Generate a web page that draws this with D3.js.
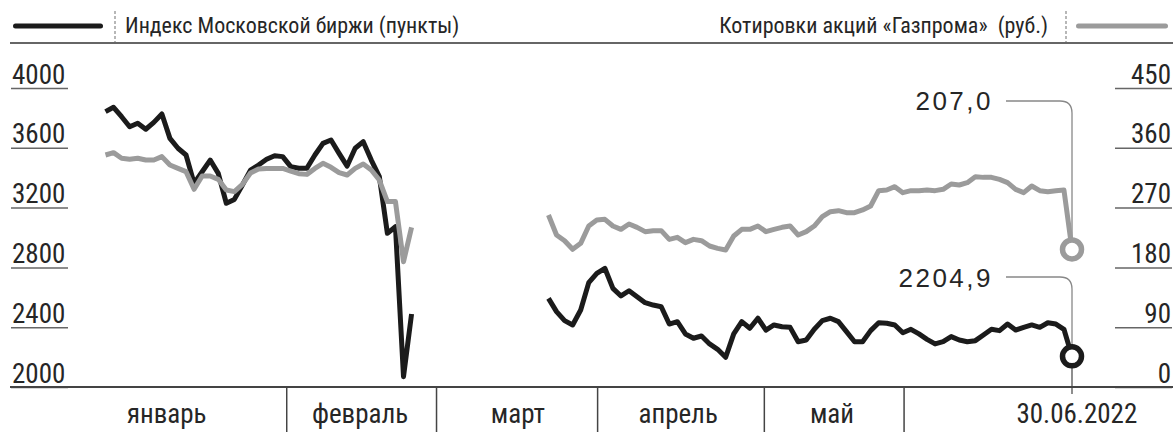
<!DOCTYPE html>
<html><head><meta charset="utf-8">
<script src="https://cdn.jsdelivr.net/npm/d3@7"></script>
<style>body{margin:0;background:#fff}svg{display:block}</style>
</head><body><svg id="c" width="1176" height="439"></svg>
<script>
// ---- data (trading-day index based) ----
const segStart = [0, 55];
const moexJanFeb = [3842,3871,3808,3741,3764,3724,3770,3826,3663,3597,3552,3362,3440,3518,3429,3229,3255,3351,3451,3485,3523,3547,3541,3474,3463,3463,3552,3630,3652,3563,3478,3597,3641,3518,3407,3028,3072,2069,2488];
const moexMarJun = [2593,2504,2444,2415,2515,2698,2760,2794,2660,2609,2644,2604,2564,2548,2537,2421,2437,2355,2326,2341,2288,2252,2199,2355,2437,2393,2460,2381,2415,2403,2399,2303,2314,2386,2444,2460,2437,2370,2303,2303,2377,2430,2426,2415,2363,2386,2355,2319,2288,2303,2337,2314,2303,2310,2348,2386,2377,2421,2381,2399,2415,2399,2430,2421,2386,2204.9];
const gazpJanFeb = [349.2,352.7,344.2,342.7,344.2,341.6,341.6,346.7,334.1,329.1,324.1,297.5,317.6,317.6,312.5,296.5,294,305,322,328,329,329,329,325,321,320,329,336.6,330.6,322.6,319.1,329.1,335.6,326.6,311.5,279,279,188.6,240.3];
const gazpMarJun = [258.9,228.8,220.2,207.2,216.2,242.3,251.3,252.3,242.3,237.3,245.3,240.3,233.8,235.3,235.3,222.2,225.3,217.2,222.2,220.2,212.2,208.7,206.2,227.3,237.3,237.3,242.3,233.8,237.3,240.3,242.3,228.8,233.8,242.3,256.4,263.9,265.4,262.4,262.4,266.4,272.4,295.5,296.5,301.5,292.5,295.5,295.5,296.5,295.5,297.5,305.5,304,307.5,316.5,315.5,315.5,312.5,307.5,297.5,292.5,302.5,295.5,294,295.5,296.5,207.0];
const leftTicks = [2000,2400,2800,3200,3600,4000];
const rightTicks = [0,90,180,270,360,450];
const monthBreaks = [22.5,41.1,61.1,81.8,99.15];
const monthLabels = ["январь","февраль","март","апрель","май","30.06.2022"];
const monthLabelPos = [7.6,31.6,51.2,71.1,90.2,120.6];
const lastIndex = 120;
const legendLeft = "Индекс Московской биржи (пункты)";
const legendRight = "Котировки акций «Газпрома»  (руб.)";
const labelMoex = "2204,9";
const labelGazp = "207,0";

// ---- layout ----
const narrow = '"Liberation Sans Narrow","Arial Narrow","Roboto Condensed","DejaVu Sans Condensed",sans-serif';
const reg = '"Liberation Sans",Arial,Helvetica,sans-serif';
const BLACK = "#1b1b1b", GRAY = "#9b9b9b", TXT = "#262626";
const x = d3.scaleLinear().domain([0, lastIndex]).range([105.5, 1072]);
const yL = d3.scaleLinear().domain([2000, 4000]).range([387, 88]);
const yR = d3.scaleLinear().domain([0, 450]).range([387, 88]);
const svg = d3.select("#c");

// header
svg.append("line").attr("x1",15.5).attr("x2",100.5).attr("y1",26).attr("y2",26)
  .attr("stroke",BLACK).attr("stroke-width",5).attr("stroke-linecap","round");
svg.append("line").attr("x1",115).attr("x2",115).attr("y1",11).attr("y2",42)
  .attr("stroke","#888").attr("stroke-width",1.2).attr("stroke-dasharray","3,2");
svg.append("text").attr("x",125).attr("y",33).attr("font-family",narrow).attr("font-size",22)
  .attr("fill",TXT).text(legendLeft);
svg.append("text").attr("x",1048).attr("y",33).attr("font-family",narrow).attr("font-size",22)
  .attr("fill",TXT).attr("text-anchor","end").style("white-space","pre").text(legendRight);
svg.append("line").attr("x1",1066).attr("x2",1066).attr("y1",11).attr("y2",42)
  .attr("stroke","#888").attr("stroke-width",1.2).attr("stroke-dasharray","3,2");
svg.append("line").attr("x1",1078.5).attr("x2",1165.5).attr("y1",26).attr("y2",26)
  .attr("stroke",GRAY).attr("stroke-width",5).attr("stroke-linecap","round");
svg.append("line").attr("x1",10).attr("x2",1173).attr("y1",43).attr("y2",43)
  .attr("stroke","#333").attr("stroke-width",1.5);

// left axis
const gL = svg.append("g").attr("transform","translate(11,0)")
  .call(d3.axisRight(yL).tickValues(leftTicks).tickSize(57).tickFormat(d3.format("d")));
gL.select(".domain").remove();
gL.selectAll("line").attr("stroke","#666").attr("stroke-width",1.5);
gL.selectAll("text").attr("x",1).attr("y",-5).attr("dy",null).attr("text-anchor","start")
  .attr("font-family",narrow).attr("font-size",27).attr("fill",TXT);

// right axis
const gR = svg.append("g").attr("transform","translate(1172,0)")
  .call(d3.axisLeft(yR).tickValues(rightTicks).tickSize(57).tickFormat(d3.format("d")));
gR.select(".domain").remove();
gR.selectAll("line").attr("stroke","#666").attr("stroke-width",1.5);
gR.selectAll("text").attr("x",-1).attr("y",-5).attr("dy",null).attr("text-anchor","end")
  .attr("font-family",narrow).attr("font-size",27).attr("fill",TXT);

// bottom axis
svg.append("line").attr("x1",10).attr("x2",1173).attr("y1",yL(2000)).attr("y2",yL(2000))
  .attr("stroke","#444").attr("stroke-width",2);
svg.selectAll("line.sep").data(monthBreaks).join("line").attr("class","sep")
  .attr("x1",d=>x(d)).attr("x2",d=>x(d)).attr("y1",yL(2000)).attr("y2",432)
  .attr("stroke","#444").attr("stroke-width",1.5);
svg.selectAll("text.month").data(monthLabels).join("text").attr("class","month")
  .attr("x",(d,i)=>x(monthLabelPos[i])).attr("y",423).attr("text-anchor","middle")
  .attr("font-family",narrow).attr("font-size",27).attr("fill",TXT).text(d=>d);
// end-date tick
svg.append("line").attr("x1",x(lastIndex)).attr("x2",x(lastIndex)).attr("y1",368).attr("y2",394)
  .attr("stroke","#444").attr("stroke-width",1.2);

// leaders
function leader(yLbl, yEnd){
  const xe = x(lastIndex), r = 12;
  return `M1006,${yLbl}H${xe-r}Q${xe},${yLbl} ${xe},${yLbl+r}V${yEnd}`;
}
const gazpEnd = gazpMarJun[gazpMarJun.length-1];
const moexEnd = moexMarJun[moexMarJun.length-1];
svg.append("path").attr("d",leader(101, yR(gazpEnd))).attr("fill","none").attr("stroke","#888").attr("stroke-width",1.3);
svg.append("path").attr("d",leader(277, yL(moexEnd))).attr("fill","none").attr("stroke","#888").attr("stroke-width",1.3);
svg.append("text").attr("x",993).attr("y",110).attr("text-anchor","end").attr("font-family",reg)
  .attr("font-size",26).attr("letter-spacing",2.5).attr("fill",TXT).text(labelGazp);
svg.append("text").attr("x",993).attr("y",287).attr("text-anchor","end").attr("font-family",reg)
  .attr("font-size",26).attr("letter-spacing",2.5).attr("fill",TXT).text(labelMoex);

// series
function drawSeries(arr, start, yScale, color){
  const line = d3.line().x((d,i)=>x(start+i)).y(d=>yScale(d));
  svg.append("path").datum(arr).attr("d",line).attr("fill","none").attr("stroke",color)
    .attr("stroke-width",5).attr("stroke-linejoin","round").attr("stroke-linecap","butt");
}
drawSeries(moexJanFeb, segStart[0], yL, BLACK);
drawSeries(moexMarJun, segStart[1], yL, BLACK);
drawSeries(gazpJanFeb, segStart[0], yR, GRAY);
drawSeries(gazpMarJun, segStart[1], yR, GRAY);

// end circles
svg.append("circle").attr("cx",x(lastIndex)).attr("cy",yR(gazpEnd)).attr("r",9.5)
  .attr("fill","#fff").attr("stroke",GRAY).attr("stroke-width",5.5);
svg.append("circle").attr("cx",x(lastIndex)).attr("cy",yL(moexEnd)).attr("r",9.5)
  .attr("fill","#fff").attr("stroke",BLACK).attr("stroke-width",5.5);
</script></body></html>
